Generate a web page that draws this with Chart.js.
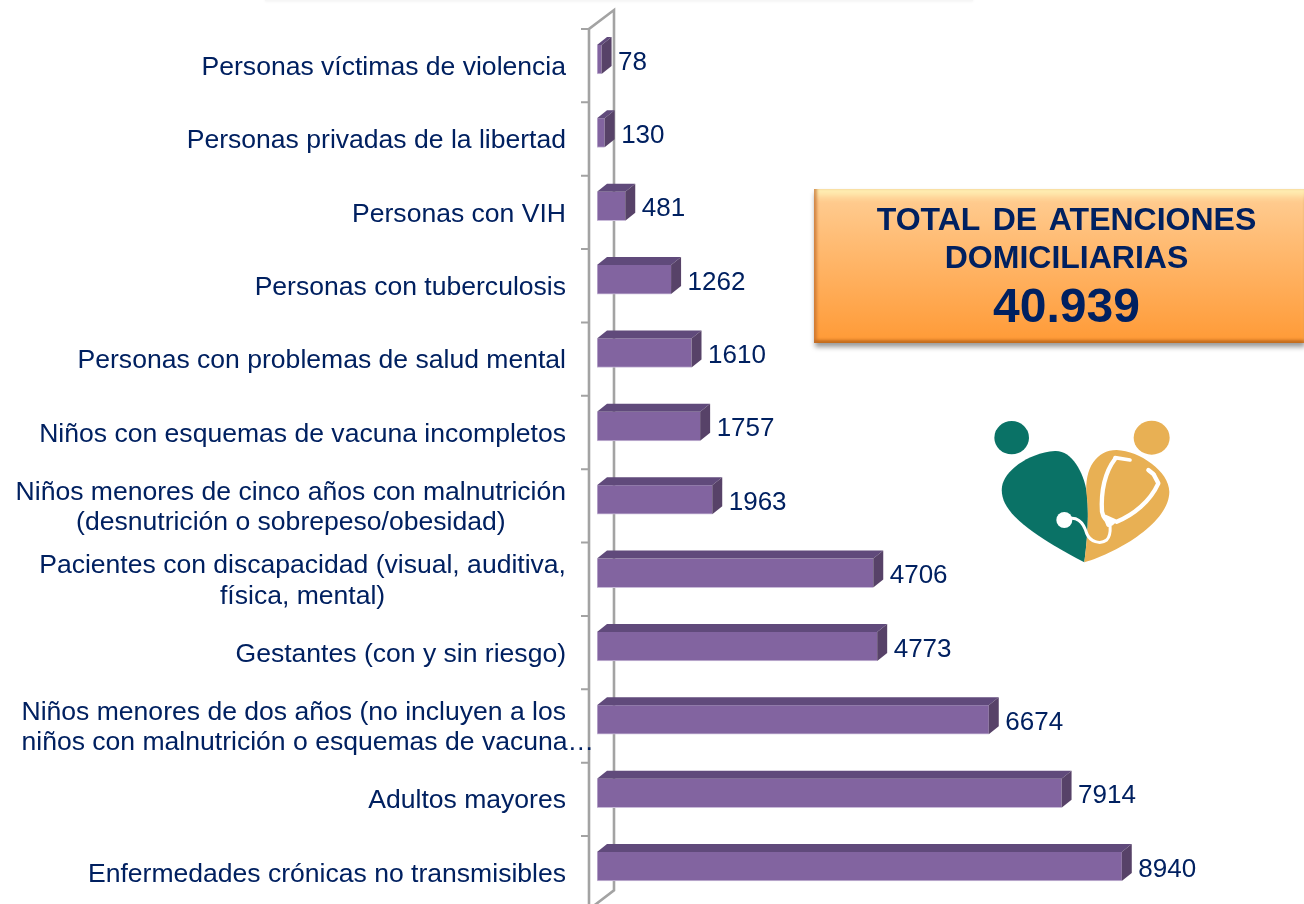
<!DOCTYPE html>
<html lang="es">
<head>
<meta charset="utf-8">
<title>Total de atenciones domiciliarias</title>
<script src="https://cdn.jsdelivr.net/npm/chart.js@4"></script>
<style>
html,body{margin:0;padding:0;background:#fff;width:1304px;height:904px;overflow:hidden;font-family:"Liberation Sans",Arial,sans-serif}
#c{position:absolute;left:0;top:0}
#strip{position:absolute;left:265px;top:0;width:708px;height:1px;box-shadow:0 0 3px rgba(0,0,0,.14);background:#f6f6f6}
#box{position:absolute;left:814px;top:189px;width:490px;height:154px;box-sizing:border-box;
 background:linear-gradient(#ffcf96 0%,#ffbe78 30%,#ff9a36 100%);
 box-shadow:inset 4px 0 3px -1px rgba(190,105,40,.65),inset 0 11px 7px -4px rgba(255,240,180,.95),inset 0 -4px 3px -1px rgba(170,90,20,.7),1px 4px 5px rgba(0,0,0,.4);
 color:#002060;font-weight:bold;text-align:center}
#box div{position:absolute;left:0;width:505px;white-space:nowrap}
#l1{top:10px;font-size:32px;line-height:40px;word-spacing:4px}
#l2{top:48px;font-size:32px;line-height:40px}
#l3{top:84px;font-size:48px;line-height:66px}
#logo{position:absolute;left:800px;top:175px;width:504px;height:400px}
</style>
</head>
<body>
<canvas id="c" width="1304" height="904"></canvas>
<div id="strip"></div>
<div id="box"><div id="l1">TOTAL DE ATENCIONES</div><div id="l2">DOMICILIARIAS</div><div id="l3">40.939</div></div>
<svg id="logo" viewBox="0 0 1512 1200" xmlns="http://www.w3.org/2000/svg">
<ellipse cx="635" cy="788" rx="52" ry="50" fill="#0a7266"/>
<ellipse cx="1055" cy="788" rx="54" ry="51" fill="#e8b054"/>
<path d="M853 1162C770 1120 690 1070 645 1025C615 995 602 965 606 935C612 890 680 835 765 828C815 826 850 890 860 950C868 1020 862 1090 853 1162Z" fill="#0a7266"/>
<path d="M853 1162C862 1090 868 1020 860 960C852 880 890 825 950 825C1020 828 1108 890 1108 950C1108 1040 960 1130 853 1162Z" fill="#e8b054"/>
<g fill="none" stroke="#fff" stroke-linecap="round" stroke-linejoin="round">
<path d="M793 1035C830 1020 850 1040 860 1075C870 1100 900 1110 920 1095C935 1080 930 1060 930 1045" stroke-width="9"/>
<path d="M945 852C915 890 902 950 906 1010C910 1030 920 1040 935 1045" stroke-width="13"/>
<path d="M1062 900L1075 925C1050 980 1000 1020 950 1040" stroke-width="13"/>
<path d="M945 848L990 855" stroke-width="11"/>
<path d="M1045 885L1060 897" stroke-width="13"/>
<path d="M915 1025L945 1038L925 1050Z" stroke-width="12" fill="#fff"/>
</g>
<circle cx="793" cy="1035" r="24" fill="#fff"/>
</svg>
<script>
const categories = [
  ["Personas víctimas de violencia"],
  ["Personas privadas de la libertad"],
  ["Personas con VIH"],
  ["Personas con tuberculosis"],
  ["Personas con problemas de salud mental"],
  ["Niños con esquemas de vacuna incompletos"],
  ["Niños menores de cinco años con malnutrición","(desnutrición o sobrepeso/obesidad)"],
  ["Pacientes con discapacidad (visual, auditiva,","física, mental)"],
  ["Gestantes (con y sin riesgo)"],
  ["Niños menores de dos años (no incluyen a los","niños con malnutrición o esquemas de vacuna…"],
  ["Adultos mayores"],
  ["Enfermedades crónicas no transmisibles"]
];
const values = [78,130,481,1262,1610,1757,1963,4706,4773,6674,7914,8940];

const INK = '#002060', FONT = '"Liberation Sans", Arial, sans-serif';
const DX = 10, DY = 8;

const bars3d = {
  id: 'bars3d',
  beforeDatasetsDraw(chart) {
    const {ctx, scales:{y}, chartArea:a} = chart;
    const step = y.getPixelForTick(1) - y.getPixelForTick(0);
    const fx = a.left - 8, bx = a.left + 17;
    const top = y.getPixelForTick(0) - step/2 + 6.2;
    const n = categories.length;
    const bottom = top + step*n;
    ctx.save();
    ctx.strokeStyle = '#a3a3a3'; ctx.lineWidth = 2.6;
    ctx.beginPath();
    ctx.moveTo(fx, bottom); ctx.lineTo(fx, top); ctx.lineTo(bx, top-19);
    ctx.lineTo(bx, bottom-19); ctx.lineTo(fx, bottom);
    ctx.stroke();
    ctx.lineWidth = 2;
    ctx.beginPath();
    for (let i=0;i<n;i++){ const t = top+step*i; ctx.moveTo(fx-8,t); ctx.lineTo(fx,t); }
    ctx.stroke();
    // labels
    ctx.fillStyle = INK; ctx.font = '26.55px '+FONT; ctx.textBaseline='middle'; ctx.textAlign='left';
    const rx = 566, lh = 30.5;
    categories.forEach((lines,i)=>{
      const cy = y.getPixelForTick(i) + 8;
      const w0 = ctx.measureText(lines[0]).width;
      lines.forEach((s,k)=>{
        const w = ctx.measureText(s).width;
        const x = w > w0 ? rx - w0 : rx - w0/2 - w/2;
        ctx.fillText(s, x, cy + (k-(lines.length-1)/2)*lh);
      });
    });
    ctx.restore();
  },
  afterDatasetsDraw(chart) {
    const {ctx} = chart;
    const meta = chart.getDatasetMeta(0);
    ctx.save();
    meta.data.forEach((b,i)=>{
      const l=b.base, r=b.x, t=b.y-b.height/2, bt=b.y+b.height/2;
      ctx.fillStyle='#604a7b';
      ctx.beginPath();ctx.moveTo(l,t);ctx.lineTo(l+DX,t-DY);ctx.lineTo(r+DX,t-DY);ctx.lineTo(r,t);ctx.closePath();ctx.fill();
      ctx.fillStyle='#574268';
      ctx.beginPath();ctx.moveTo(r,t);ctx.lineTo(r+DX,t-DY);ctx.lineTo(r+DX,bt-DY);ctx.lineTo(r,bt);ctx.closePath();ctx.fill();
      ctx.fillStyle=INK;ctx.font='26px '+FONT;ctx.textBaseline='middle';ctx.textAlign='left';
      ctx.fillText(String(values[i]), r+DX+6.5, b.y+3);
    });
    ctx.restore();
  }
};

new Chart(document.getElementById('c'), {
  type:'bar',
  data:{labels:categories, datasets:[{data:values, backgroundColor:'#8264a0', borderColor:'#c9bbd9', borderWidth:{bottom:1,left:1}, borderSkipped:false, barThickness:29}]},
  plugins:[bars3d],
  options:{
    indexAxis:'y', responsive:false, animation:false,
    layout:{padding:{top:22.8,bottom:0.8,left:0,right:120}},
    plugins:{legend:{display:false},tooltip:{enabled:false},title:{display:false}},
    scales:{
      x:{display:false,min:0,max:10000},
      y:{grid:{display:false},border:{display:false},ticks:{display:false},afterFit(s){s.width=597;}}
    }
  }
});
</script>
</body>
</html>
